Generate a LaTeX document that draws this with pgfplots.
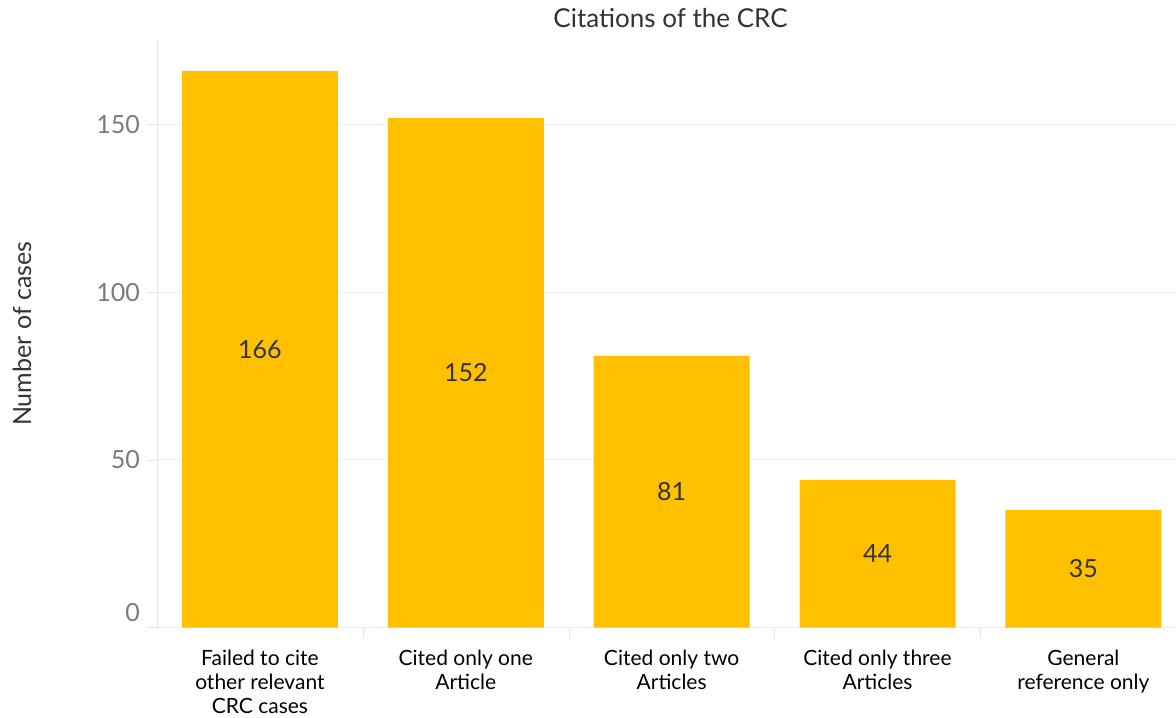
\documentclass[border=0pt]{standalone}
\usepackage{fontspec}
\setmainfont{Lato}
\usepackage{pgfplots}
\pgfplotsset{compat=1.18}
\definecolor{barcol}{HTML}{FFC000}
\definecolor{gridcol}{HTML}{EFEFEF}
\definecolor{linecol}{HTML}{E4E4E4}
\definecolor{tickgray}{HTML}{7A7A7A}
\definecolor{textdark}{HTML}{333333}
\begin{document}
\begin{tikzpicture}
\useasboundingbox (-78.5pt,-44.75pt) rectangle (509.5pt,313.75pt);
\begin{axis}[
  scale only axis, width=509.5pt, height=293.75pt,
  ybar, bar width=78pt,
  xmin=-0.5, xmax=4.45, ymin=0, ymax=175.2,
  axis x line*=bottom, axis y line*=left,
  axis line style={draw=linecol},
  x axis line style={draw=linecol, densely dashed},
  tick align=outside,
  xtick={0,...,4},
  xticklabels={{Failed to cite\\other relevant\\CRC cases},{Cited only one\\Article},{Cited only two\\Articles},{Cited only three\\Articles},{General\\reference only}},
  xticklabel style={align=center, font=\fontsize{10.5}{12}\selectfont, text=black, yshift=-2.5pt},
  major x tick style={draw=none},
  minor xtick={0.5,1.5,2.5,3.5},
  minor x tick style={draw=linecol},
  minor tick length=5pt,
  ytick={50,100,150},
  extra y ticks={0},
  extra y tick style={yticklabel style={yshift=7.5pt}},
  major tick length=5pt,
  y tick style={draw=linecol},
  yticklabel style={font=\fontsize{12.5}{15}\selectfont, text=tickgray},
  /pgf/number format/assume math mode=true,
  ymajorgrids, grid style={draw=gridcol},
  title={Citations of the CRC},
  title style={at={(axis description cs:0.5,1)}, anchor=center, yshift=5pt, xshift=2pt, font=\fontsize{13}{15}\selectfont, text=textdark},
  ylabel={Number of cases},
  every axis y label/.style={at={([xshift=-67.5pt]axis description cs:0,0.5)}, rotate=90, anchor=center, font=\fontsize{12.5}{15}\selectfont, text=textdark},
  nodes near coords,
  visualization depends on={rawy \as \rawy},
  every node near coord/.append style={anchor=center, shift={(axis direction cs:0,-\rawy/2)}, font=\fontsize{12.5}{15}\selectfont, text=textdark},
]
\addplot[fill=barcol, draw=none] coordinates {(0,166) (1,152) (2,81) (3,44) (4,35)};
\end{axis}
\end{tikzpicture}
\end{document}
